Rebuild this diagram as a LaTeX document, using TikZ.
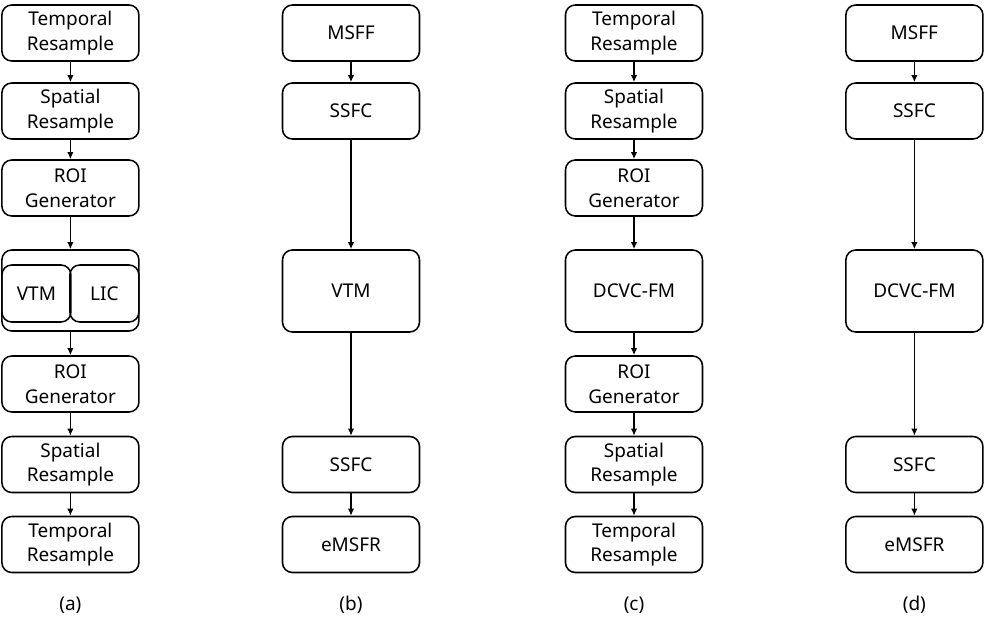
\documentclass[tikz,border=0pt]{standalone}
\usepackage{fontspec}
\setsansfont{Noto Sans}
\usepackage{tikz}
\usetikzlibrary{arrows.meta,positioning}

\tikzset{
  blk/.style={draw, line width=1.1pt, rounded corners=7pt, align=center,
    minimum width=3.425cm, minimum height=1.4cm, inner sep=0pt,
    font=\sffamily\fontsize{13.5}{17.5}\selectfont},
  bigblk/.style={blk, minimum height=2.05cm},
  halfblk/.style={blk, minimum width=1.725cm, minimum height=1.425cm},
  flow/.style={-{Latex[length=5pt,width=4.5pt]}, line width=1pt},
  sublabel/.style={font=\sffamily\fontsize{13.5}{16}\selectfont}
}

\begin{document}
\begin{tikzpicture}
  \useasboundingbox (0,0) rectangle (24.675,15.75);
  % (a)
  \node[blk] (a1) at (1.76,14.925) {Temporal\\Resample};
  \node[blk] (a2) at (1.76,12.975) {Spatial\\Resample};
  \node[blk] (a3) at (1.76,11.05) {ROI\\Generator};
  \node[blk, minimum height=2.025cm] (a4) at (1.76,8.4875) {};
  \node[halfblk] (vtm) at (0.91,8.4125) {VTM};
  \node[halfblk] (lic) at (2.61,8.4125) {LIC};
  \node[blk] (a5) at (1.76,6.15) {ROI\\Generator};
  \node[blk] (a6) at (1.76,4.1375) {Spatial\\Resample};
  \node[blk] (a7) at (1.76,2.1375) {Temporal\\Resample};
  \node[sublabel] (la) at (1.76,0.625) {(a)};
  % (b)
  \node[blk] (b1) at (8.775,14.925) {MSFF};
  \node[blk] (b2) at (8.775,12.975) {SSFC};
  \node[bigblk] (b3) at (8.775,8.475) {VTM};
  \node[blk] (b4) at (8.775,4.1375) {SSFC};
  \node[blk] (b5) at (8.775,2.1375) {eMSFR};
  \node[sublabel] (lb) at (8.775,0.625) {(b)};
  % (c)
  \node[blk] (c1) at (15.85,14.925) {Temporal\\Resample};
  \node[blk] (c2) at (15.85,12.975) {Spatial\\Resample};
  \node[blk] (c3) at (15.85,11.05) {ROI\\Generator};
  \node[bigblk] (c4) at (15.85,8.475) {DCVC-FM};
  \node[blk] (c5) at (15.85,6.15) {ROI\\Generator};
  \node[blk] (c6) at (15.85,4.1375) {Spatial\\Resample};
  \node[blk] (c7) at (15.85,2.1375) {Temporal\\Resample};
  \node[sublabel] (lc) at (15.85,0.625) {(c)};
  % (d)
  \node[blk] (d1) at (22.86,14.925) {MSFF};
  \node[blk] (d2) at (22.86,12.975) {SSFC};
  \node[bigblk] (d3) at (22.86,8.475) {DCVC-FM};
  \node[blk] (d4) at (22.86,4.1375) {SSFC};
  \node[blk] (d5) at (22.86,2.1375) {eMSFR};
  \node[sublabel] (ld) at (22.86,0.625) {(d)};
  % arrows
  \foreach \u/\v in {a1/a2,a2/a3,a3/a4,a4/a5,a5/a6,a6/a7,
                     b1/b2,b2/b3,b3/b4,b4/b5,
                     c1/c2,c2/c3,c3/c4,c4/c5,c5/c6,c6/c7,
                     d1/d2,d2/d3,d3/d4,d4/d5}
    \draw[flow] (\u) -- (\v);
\end{tikzpicture}
\end{document}
